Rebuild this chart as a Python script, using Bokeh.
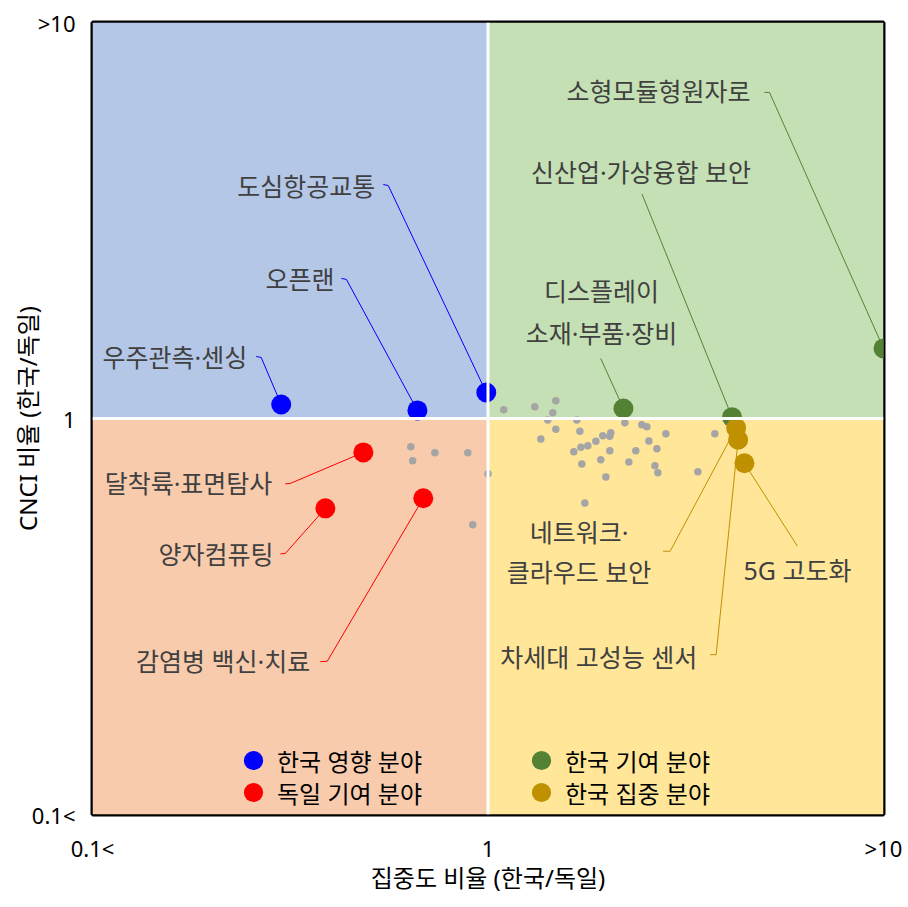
from bokeh.plotting import figure
from bokeh.models import Range1d, FixedTicker, Span, Legend, LegendItem
from bokeh.core.properties import value
from bokeh.embed import file_html
from bokeh.resources import INLINE

# ---------------- data ----------------
# quadrant backgrounds (x from / to, y from / to)
quad_left = [0.1, 1, 0.1, 1]
quad_right = [1, 10, 1, 10]
quad_bottom = [1, 1, 0.1, 0.1]
quad_top = [10, 10, 1, 1]
quad_colors = ["#B4C7E7", "#C5E0B4", "#F8CBAD", "#FFE699"]

# unlabelled fields (gray)
gray_x = [1.096, 1.313, 1.484, 1.458, 1.416, 1.484, 1.360, 1.677, 1.707, 2.218,
          2.448, 2.521, 2.816, 3.746, 1.951, 2.044, 2.032, 1.874, 1.788, 1.717,
          1.648, 2.032, 2.364, 2.551, 2.673, 1.928, 1.727, 2.270, 2.642, 2.688,
          1.986, 3.393, 1.757, 1.000, 0.638, 0.645, 0.734, 0.889, 0.915]
gray_y = [1.052, 1.070, 1.108, 1.034, 0.992, 0.940, 0.887, 0.992, 0.929, 0.975,
          0.964, 0.953, 0.915, 0.915, 0.904, 0.920, 0.902, 0.876, 0.853, 0.846,
          0.824, 0.829, 0.829, 0.878, 0.839, 0.787, 0.768, 0.777, 0.760, 0.729,
          0.712, 0.734, 0.612, 0.725, 0.848, 0.782, 0.819, 0.819, 0.539]

# 한국 영향 분야 (blue)
blue_names = ["우주관측·센싱", "오픈랜", "도심항공교통"]
blue_x = [0.300, 0.663, 0.990]
blue_y = [1.085, 1.048, 1.163]
# 독일 기여 분야 (red)
red_names = ["달착륙·표면탐사", "양자컴퓨팅", "감염병 백신·치료"]
red_x = [0.484, 0.388, 0.686]
red_y = [0.821, 0.593, 0.629]
# 한국 기여 분야 (green)
green_names = ["소형모듈형원자로", "신산업·가상융합 보안", "디스플레이 소재·부품·장비"]
green_x = [10.0, 4.14, 2.20]
green_y = [1.503, 1.008, 1.060]
# 한국 집중 분야 (gold)
gold_names = ["네트워크·클라우드 보안", "차세대 고성능 센서", "5G 고도화"]
gold_x = [4.24, 4.29, 4.45]
gold_y = [0.947, 0.884, 0.771]

legend_labels = ["한국 영향 분야", "독일 기여 분야", "한국 기여 분야", "한국 집중 분야"]
tick_labels = {0.1: "0.1<", 1: "1", 10: ">10"}

# ---------------- layout (pixel offsets of labels from their point) ----------------
PX_X = 395.5   # pixels per decade, x
PX_Y = 396.0   # pixels per decade, y


def shift(x, y, dx, dy):
    return x * 10 ** (dx / PX_X), y * 10 ** (-dy / PX_Y)


# name -> (list of (text line, dx, dy), align, leader offsets)
label_layout = {
    "도심항공교통": ([("도심항공교통", -111, -207)], "right", [(-103, -208), (-98, -207)]),
    "오픈랜": ([("오픈랜", -83, -131)], "right", [(-76, -132), (-71, -131)]),
    "우주관측·센싱": ([("우주관측·센싱", -34, -47)], "right", [(-25, -48), (-20, -47)]),
    "달착륙·표면탐사": ([("달착륙·표면탐사", -91, 31)], "right", [(-78, 31.5), (-73, 31)]),
    "양자컴퓨팅": ([("양자컴퓨팅", -52, 46)], "right", [(-45, 45.5), (-40, 45)]),
    "감염병 백신·치료": ([("감염병 백신·치료", -113, 163)], "right", [(-103, 163.5), (-96, 163)]),
    "소형모듈형원자로": ([("소형모듈형원자로", -133, -257)], "right", [(-119, -256), (-114, -256)]),
    "신산업·가상융합 보안": ([("신산업·가상융합 보안", -91, -245)], "center", [(-90, -223)]),
    "디스플레이 소재·부품·장비": ([("디스플레이", -22, -117), ("소재·부품·장비", -22, -75.5)], "center", [(-22.7, -50)]),
    "네트워크·클라우드 보안": ([("네트워크·", -157, 104.4), ("클라우드 보안", -157, 144.4)], "center", [(-73, 123.4), (-66, 123.4)]),
    "차세대 고성능 센서": ([("차세대 고성능 센서", -41, 217)], "right", [(-28, 215), (-22, 215)]),
    "5G 고도화": ([("5G 고도화", 53, 107)], "center", [(53, 83)]),
}

groups = [
    (blue_names, blue_x, blue_y, "#0000FF"),
    (red_names, red_x, red_y, "#FF0000"),
    (green_names, green_x, green_y, "#548235"),
    (gold_names, gold_x, gold_y, "#BF9000"),
]

LABEL_FONT = "Noto Sans, Noto Sans CJK KR"

# ---------------- figure ----------------
p = figure(width=908, height=907, x_axis_type="log", y_axis_type="log",
           x_range=Range1d(0.1, 10), y_range=Range1d(0.1, 10),
           output_backend="svg", toolbar_location=None,
           min_border_left=92, min_border_right=25, min_border_top=22, min_border_bottom=93)
p.grid.visible = False
p.outline_line_color = "black"
p.outline_line_width = 4
p.background_fill_color = "white"
p.border_fill_color = "white"

p.quad(left=quad_left, right=quad_right, bottom=quad_bottom, top=quad_top,
       fill_color=quad_colors, line_color=None)
p.add_layout(Span(location=1, dimension="height", line_color="white", line_width=3))
p.add_layout(Span(location=1, dimension="width", line_color="white", line_width=3))

# leader lines
for names, xs, ys, color in groups:
    lx, ly = [], []
    for n, x, y in zip(names, xs, ys):
        _, _, leader = label_layout[n]
        px, py = [], []
        for dx, dy in leader:
            a, b = shift(x, y, dx, dy)
            px.append(a)
            py.append(b)
        px.append(x)
        py.append(y)
        lx.append(px)
        ly.append(py)
    p.multi_line(xs=lx, ys=ly, line_color=color, line_width=1)

p.scatter(gray_x, gray_y, size=7.5, fill_color="#A5A5A5", line_color=None)

renderers = []
for names, xs, ys, color in groups:
    r = p.scatter(xs, ys, size=20, fill_color=color, line_color=None)
    renderers.append(r)

# labels
for align in ("right", "center"):
    tx, ty, tt = [], [], []
    for names, xs, ys, color in groups:
        for n, x, y in zip(names, xs, ys):
            lines, al, _ = label_layout[n]
            if al != align:
                continue
            for txt, dx, dy in lines:
                a, b = shift(x, y, dx, dy)
                tx.append(a)
                ty.append(b)
                tt.append(txt)
    p.text(x=tx, y=ty, text=tt, text_align=align, text_baseline="middle",
           text_font=value(LABEL_FONT), text_font_size="25px", text_color="#404040")

# legends (one per entry, absolute placement)
leg_pos = [(137, 30), (137, -2), (425, 30), (425, -2)]
for r, lab, loc in zip(renderers, legend_labels, leg_pos):
    leg = Legend(items=[LegendItem(label=lab, renderers=[r])], location=loc,
                 padding=0, margin=0, spacing=0, glyph_width=48, glyph_height=48,
                 label_standoff=-8, label_text_font=LABEL_FONT,
                 label_text_font_size="24px", label_text_color="black",
                 border_line_alpha=0, background_fill_alpha=0)
    p.add_layout(leg)

# axes
p.xaxis.axis_label = "집중도 비율 (한국/독일)"
p.yaxis.axis_label = "CNCI 비율 (한국/독일)"
for ax in (p.xaxis[0], p.yaxis[0]):
    ax.ticker = FixedTicker(ticks=list(tick_labels.keys()), minor_ticks=[])
    ax.major_label_overrides = tick_labels
    ax.axis_line_color = None
    ax.major_tick_line_color = None
    ax.minor_tick_line_color = None
    ax.major_tick_in = 0
    ax.major_tick_out = 0
    ax.minor_tick_in = 0
    ax.minor_tick_out = 0
    ax.major_label_text_font = "Noto Sans"
    ax.major_label_text_font_size = "22px"
    ax.major_label_text_color = "black"
    ax.axis_label_text_font = LABEL_FONT
    ax.axis_label_text_font_size = "24px"
    ax.axis_label_text_font_style = "normal"
    ax.axis_label_text_color = "black"
p.xaxis.major_label_standoff = 18
p.xaxis.axis_label_standoff = -5
p.yaxis.major_label_standoff = 17
p.yaxis.axis_label_standoff = -15

open("out.html", "w").write(file_html(p, INLINE))
